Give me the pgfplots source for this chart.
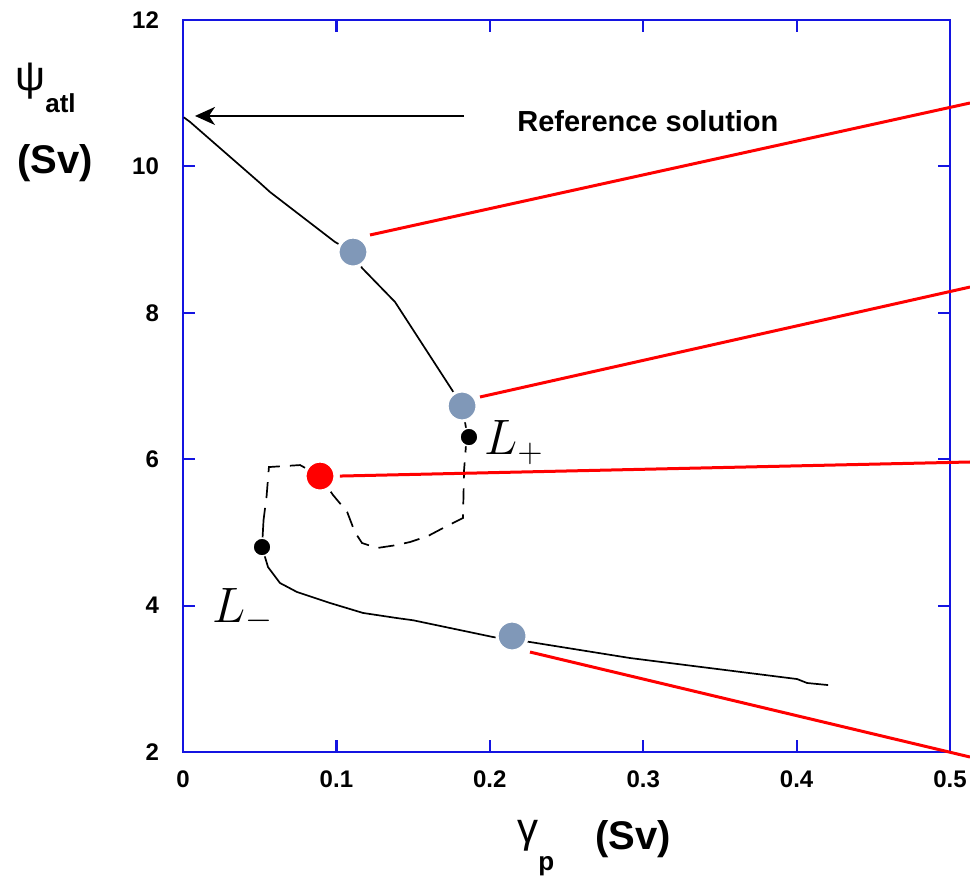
\documentclass[border=0pt]{standalone}
\usepackage{fontspec}
\setmainfont{Liberation Sans}
\usepackage{pgfplots}
\pgfplotsset{compat=1.18}
\usetikzlibrary{arrows.meta}
\definecolor{axblue}{RGB}{20,20,225}
\definecolor{ptblue}{HTML}{8098B8}
\definecolor{ptred}{HTML}{FF0000}
\tikzset{
 bigpt/.style={only marks,mark=*,mark size=7.5pt,mark options={fill=ptblue,draw=white,line width=1.6pt}},
 redpt/.style={only marks,mark=*,mark size=7.5pt,mark options={fill=ptred,draw=white,line width=1.6pt}},
 blackpt/.style={only marks,mark=*,mark size=4.5pt,mark options={fill=black,draw=white,line width=0.8pt}},
 redline/.style={draw=ptred,line width=1.5pt,mark=none},
 curve/.style={draw=black,line width=0.85pt,mark=none}
}

\begin{document}
\begin{tikzpicture}
\begin{axis}[
 scale only axis,width=383.5pt,height=366pt,
 xmin=0,xmax=0.5,ymin=2,ymax=12,
 xtick={0,0.1,0.2,0.3,0.4,0.5},ytick={2,4,6,8,10,12},
 tick align=inside,major tick length=6pt,
 axis line style={draw=axblue,line width=1.2pt},
 every tick/.style={draw=axblue,line width=1.1pt},
 tick label style={font=\fontsize{12}{12}\selectfont\bfseries},
 /pgf/number format/assume math mode=true,
 xticklabel style={yshift=-6pt},
 yticklabel style={xshift=-8.5pt},
 clip=false
]
% upper branch (reference solution)
\addplot[curve] coordinates {
 (0.0005,10.67) (0.0046,10.607) (0.0502,9.773) (0.0567,9.650) (0.0991,8.967)
 (0.1108,8.83) (0.1167,8.612) (0.1382,8.148) (0.1754,6.945) (0.1819,6.727)
 (0.1845,6.426) (0.1864,6.303)
};
% unstable branch
\addplot[curve,dash pattern=on 8pt off 5pt] coordinates {
 (0.1864,6.303) (0.1845,6.2) (0.1832,5.85) (0.1825,5.197) (0.1708,5.074)
 (0.1597,4.951) (0.148,4.869) (0.1395,4.828) (0.1265,4.787) (0.1167,4.855)
 (0.112,5.005) (0.107,5.28) (0.0978,5.51) (0.0893,5.77) (0.0763,5.92)
 (0.056,5.893) (0.0545,5.5) (0.0525,5.17)
};
% lower branch
\addplot[curve] coordinates {
 (0.0525,5.17) (0.0515,4.80) (0.0554,4.527) (0.0632,4.309) (0.0743,4.186)
 (0.0958,4.036) (0.1173,3.90) (0.1395,3.83) (0.150,3.80) (0.2021,3.571)
 (0.2262,3.503) (0.2914,3.284) (0.4003,2.997) (0.4068,2.943) (0.4205,2.915)
};
% red connector lines
\addplot[redline] coordinates {(0.1219,9.063) (0.5130,10.866)};
\addplot[redline] coordinates {(0.1936,6.850) (0.5130,8.352)};
\addplot[redline] coordinates {(0.1023,5.770) (0.5130,5.962)};
\addplot[redline] coordinates {(0.2262,3.366) (0.5130,1.932)};
% points
\addplot[bigpt] coordinates {(0.1108,8.83) (0.1819,6.727) (0.2145,3.585)};
\addplot[redpt] coordinates {(0.0893,5.77)};
\addplot[blackpt] coordinates {(0.1864,6.303) (0.0515,4.80)};
% arrow to reference solution
\addplot[draw=black,line width=1pt,-{Stealth[length=10pt,width=9pt,inset=3pt]}] coordinates {(0.1832,10.689) (0.0078,10.689)};
\node[anchor=west,inner sep=0pt,font=\fontsize{14.5}{15}\selectfont\bfseries] at (axis cs:0.2177,10.62) {Reference solution};
% L labels
\node[anchor=base west,inner sep=0pt,font=\fontsize{24}{24}\selectfont] at (axis cs:0.1962,6.06) {$L_+$};
\node[anchor=base west,inner sep=0pt,font=\fontsize{24}{24}\selectfont] at (axis cs:0.0189,3.776) {$L_-$};
% axis labels
\node[anchor=base west,inner sep=0pt] at (axis cs:-0.1095,11.03) {\fontsize{21}{21}\selectfont ψ\raisebox{-11pt}{\fontsize{13}{13}\selectfont\bfseries atl}};
\node[anchor=center,inner sep=0pt,font=\fontsize{20}{20}\selectfont\bfseries] at (axis cs:-0.0834,10.046) {(Sv)};
\node[anchor=base west,inner sep=0pt] at (axis cs:0.2177,0.77) {\fontsize{21}{21}\selectfont γ\raisebox{-14pt}{\fontsize{13}{13}\selectfont\bfseries p}};
\node[anchor=center,inner sep=0pt,font=\fontsize{20}{20}\selectfont\bfseries] at (axis cs:0.2933,0.811) {(Sv)};
\coordinate (bbsw) at (axis cs:-0.1193,0.2514);
\coordinate (bbne) at (axis cs:0.5130,12.273);
\end{axis}
\pgfresetboundingbox
\useasboundingbox (bbsw) rectangle (bbne);
\end{tikzpicture}
\end{document}
